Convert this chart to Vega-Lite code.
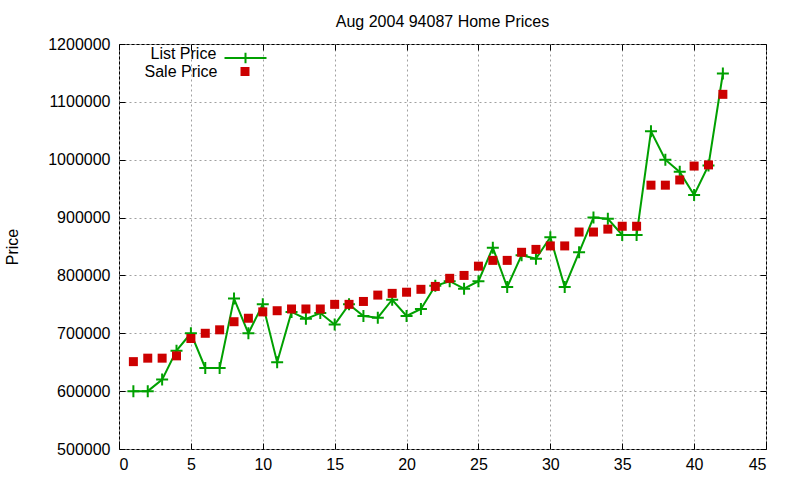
{
  "$schema": "https://vega.github.io/schema/vega-lite/v6.json",
  "width": 647,
  "height": 405,
  "autosize": {"type": "none"},
  "padding": {"left": 119, "top": 44, "right": 34, "bottom": 31},
  "background": "white",
  "title": {
    "text": "Aug 2004 94087 Home Prices",
    "font": "Liberation Sans",
    "fontSize": 16,
    "fontWeight": "normal",
    "color": "black",
    "anchor": "middle",
    "offset": 6
  },
  "config": {
    "view": {"stroke": "black", "strokeWidth": 1},
    "font": "Liberation Sans",
    "axis": {
      "labelFont": "Liberation Sans",
      "labelFontSize": 16,
      "labelColor": "black",
      "titleFont": "Liberation Sans",
      "titleFontSize": 16,
      "titleFontWeight": "normal",
      "titleColor": "black",
      "domain": false,
      "tickColor": "black",
      "tickSize": -6,
      "gridColor": "#a0a0a0",
      "gridDash": [2, 3],
      "gridWidth": 1
    },
    "legend": {
      "titleFont": "Liberation Sans",
      "titleFontSize": 16,
      "titleFontWeight": "normal",
      "titleColor": "black",
      "titleOrient": "left",
      "orient": "none"
    }
  },
  "data": {
    "values": [
      {"n": 1, "series": "List Price", "price": 600000},
      {"n": 2, "series": "List Price", "price": 600000},
      {"n": 3, "series": "List Price", "price": 620000},
      {"n": 4, "series": "List Price", "price": 670000},
      {"n": 5, "series": "List Price", "price": 700000},
      {"n": 6, "series": "List Price", "price": 640000},
      {"n": 7, "series": "List Price", "price": 640000},
      {"n": 8, "series": "List Price", "price": 760000},
      {"n": 9, "series": "List Price", "price": 700000},
      {"n": 10, "series": "List Price", "price": 750000},
      {"n": 11, "series": "List Price", "price": 650000},
      {"n": 12, "series": "List Price", "price": 737000},
      {"n": 13, "series": "List Price", "price": 725000},
      {"n": 14, "series": "List Price", "price": 735000},
      {"n": 15, "series": "List Price", "price": 715000},
      {"n": 16, "series": "List Price", "price": 750000},
      {"n": 17, "series": "List Price", "price": 730000},
      {"n": 18, "series": "List Price", "price": 727000},
      {"n": 19, "series": "List Price", "price": 758000},
      {"n": 20, "series": "List Price", "price": 730000},
      {"n": 21, "series": "List Price", "price": 742000},
      {"n": 22, "series": "List Price", "price": 782000},
      {"n": 23, "series": "List Price", "price": 790000},
      {"n": 24, "series": "List Price", "price": 777000},
      {"n": 25, "series": "List Price", "price": 790000},
      {"n": 26, "series": "List Price", "price": 848000},
      {"n": 27, "series": "List Price", "price": 780000},
      {"n": 28, "series": "List Price", "price": 835000},
      {"n": 29, "series": "List Price", "price": 829000},
      {"n": 30, "series": "List Price", "price": 866000},
      {"n": 31, "series": "List Price", "price": 780000},
      {"n": 32, "series": "List Price", "price": 840000},
      {"n": 33, "series": "List Price", "price": 900000},
      {"n": 34, "series": "List Price", "price": 898000},
      {"n": 35, "series": "List Price", "price": 870000},
      {"n": 36, "series": "List Price", "price": 870000},
      {"n": 37, "series": "List Price", "price": 1049000},
      {"n": 38, "series": "List Price", "price": 1000000},
      {"n": 39, "series": "List Price", "price": 979000},
      {"n": 40, "series": "List Price", "price": 939000},
      {"n": 41, "series": "List Price", "price": 990000},
      {"n": 42, "series": "List Price", "price": 1149000},
      {"n": 1, "series": "Sale Price", "price": 651000},
      {"n": 2, "series": "Sale Price", "price": 657000},
      {"n": 3, "series": "Sale Price", "price": 657000},
      {"n": 4, "series": "Sale Price", "price": 661000},
      {"n": 5, "series": "Sale Price", "price": 691000},
      {"n": 6, "series": "Sale Price", "price": 700000},
      {"n": 7, "series": "Sale Price", "price": 706000},
      {"n": 8, "series": "Sale Price", "price": 720000},
      {"n": 9, "series": "Sale Price", "price": 726000},
      {"n": 10, "series": "Sale Price", "price": 737000},
      {"n": 11, "series": "Sale Price", "price": 739000},
      {"n": 12, "series": "Sale Price", "price": 742000},
      {"n": 13, "series": "Sale Price", "price": 742000},
      {"n": 14, "series": "Sale Price", "price": 742000},
      {"n": 15, "series": "Sale Price", "price": 750000},
      {"n": 16, "series": "Sale Price", "price": 750000},
      {"n": 17, "series": "Sale Price", "price": 755000},
      {"n": 18, "series": "Sale Price", "price": 766000},
      {"n": 19, "series": "Sale Price", "price": 769000},
      {"n": 20, "series": "Sale Price", "price": 771000},
      {"n": 21, "series": "Sale Price", "price": 776000},
      {"n": 22, "series": "Sale Price", "price": 781000},
      {"n": 23, "series": "Sale Price", "price": 795000},
      {"n": 24, "series": "Sale Price", "price": 800000},
      {"n": 25, "series": "Sale Price", "price": 816000},
      {"n": 26, "series": "Sale Price", "price": 826000},
      {"n": 27, "series": "Sale Price", "price": 826000},
      {"n": 28, "series": "Sale Price", "price": 840000},
      {"n": 29, "series": "Sale Price", "price": 845000},
      {"n": 30, "series": "Sale Price", "price": 851000},
      {"n": 31, "series": "Sale Price", "price": 851000},
      {"n": 32, "series": "Sale Price", "price": 875000},
      {"n": 33, "series": "Sale Price", "price": 875000},
      {"n": 34, "series": "Sale Price", "price": 880000},
      {"n": 35, "series": "Sale Price", "price": 885000},
      {"n": 36, "series": "Sale Price", "price": 885000},
      {"n": 37, "series": "Sale Price", "price": 956000},
      {"n": 38, "series": "Sale Price", "price": 956000},
      {"n": 39, "series": "Sale Price", "price": 965000},
      {"n": 40, "series": "Sale Price", "price": 989000},
      {"n": 41, "series": "Sale Price", "price": 991000},
      {"n": 42, "series": "Sale Price", "price": 1113000}
    ]
  },
  "resolve": {"axis": {"x": "independent", "y": "independent"}},
  "layer": [
    {
      "transform": [{"filter": "datum.series == 'List Price'"}],
      "mark": {"type": "line", "color": "#00a000", "strokeWidth": 2},
      "encoding": {
        "x": {
          "field": "n",
          "type": "quantitative",
          "scale": {"domain": [0, 45], "nice": false},
          "axis": {"title": null, "values": [0, 5, 10, 15, 20, 25, 30, 35, 40, 45], "labelPadding": 13, "grid": true}
        },
        "y": {
          "field": "price",
          "type": "quantitative",
          "scale": {"domain": [500000, 1200000], "nice": false, "zero": false},
          "axis": {
            "title": "Price",
            "values": [500000, 600000, 700000, 800000, 900000, 1000000, 1100000, 1200000],
            "format": "d",
            "labelPadding": 15,
            "titlePadding": 27,
            "grid": true
          }
        }
      }
    },
    {
      "transform": [{"filter": "datum.series == 'List Price'"}],
      "mark": {
        "type": "point",
        "shape": "M-1,0H1M0,-1V1",
        "filled": false,
        "size": 144,
        "strokeWidth": 2,
        "opacity": 1
      },
      "encoding": {
        "x": {
          "field": "n",
          "type": "quantitative",
          "axis": {"orient": "top", "labels": false, "grid": false, "title": null, "values": [0, 5, 10, 15, 20, 25, 30, 35, 40, 45]}
        },
        "y": {
          "field": "price",
          "type": "quantitative",
          "axis": {"orient": "right", "labels": false, "grid": false, "title": null, "values": [500000, 600000, 700000, 800000, 900000, 1000000, 1100000, 1200000]}
        },
        "stroke": {
          "field": "series",
          "type": "nominal",
          "scale": {"domain": ["List Price"], "range": ["#00a000"]},
          "legend": {
            "title": "List Price",
            "legendX": 31.5,
            "legendY": -4,
            "titlePadding": 7,
            "labelExpr": "''",
            "labelOffset": 0,
            "labelFontSize": 1,
            "symbolType": "M-1,-0.19H1M0,-0.44V0.06",
            "symbolSize": 1764,
            "symbolStrokeWidth": 2,
            "symbolFillColor": "transparent"
          }
        }
      }
    },
    {
      "transform": [{"filter": "datum.series == 'Sale Price'"}],
      "mark": {"type": "square", "size": 81, "opacity": 1},
      "encoding": {
        "x": {"field": "n", "type": "quantitative", "axis": null},
        "y": {"field": "price", "type": "quantitative", "axis": null},
        "fill": {
          "field": "series",
          "type": "nominal",
          "scale": {"domain": ["Sale Price"], "range": ["#cc0000"]},
          "legend": {
            "title": "Sale Price",
            "legendX": 25.5,
            "legendY": 23,
            "titlePadding": 23,
            "labelExpr": "''",
            "labelOffset": 0,
            "labelFontSize": 1,
            "symbolType": "square",
            "symbolSize": 81,
            "symbolStrokeWidth": 0
          }
        }
      }
    }
  ]
}
